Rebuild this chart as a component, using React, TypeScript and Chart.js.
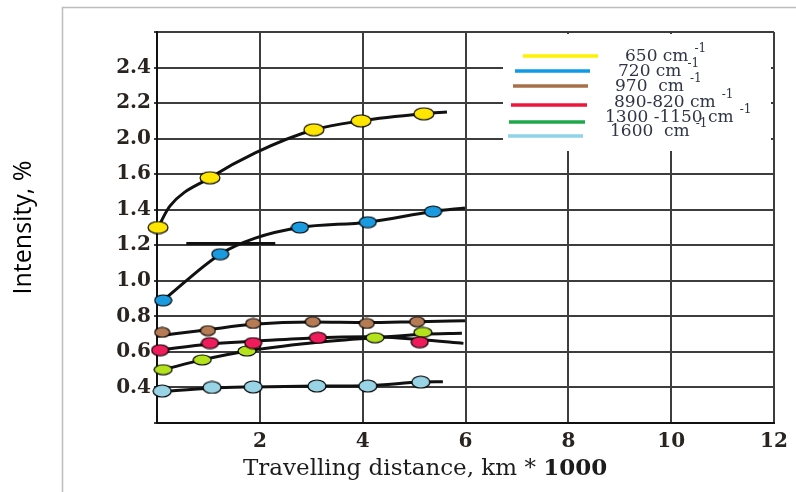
import React, { useEffect, useRef } from "react";
import { Chart, registerables } from "chart.js";

Chart.register(...registerables);

// ---------------- data ----------------
const xTickValues = [0, 2, 4, 6, 8, 10, 12];
const xTickLabels = ["", "2", "4", "6", "8", "10", "12"];
const yTickValues = [0.2, 0.4, 0.6, 0.8, 1.0, 1.2, 1.4, 1.6, 1.8, 2.0, 2.2, 2.4];
const yTickLabels = ["", "0.4", "0.6", "0.8", "1.0", "1.2", "1.4", "1.6", "2.0", "2.2", "2.4", ""];

const seriesLabels = ["650 cm", "720 cm", "970  cm", "890-820 cm", "1300 -1150 cm", "1600  cm"];
const seriesSup = "-1";
const yTitle = "Intensity, %";
const xTitleMain = "Travelling distance, km * ";
const xTitleBold = "1000";

// 650 cm-1
const s650X = [0.02, 1.03, 3.05, 3.97, 5.19];
const s650Y = [1.3, 1.58, 1.85, 1.9, 1.94];
const s650CurveX = [0.02, 0.25, 1.03, 1.91, 3.05, 3.97, 5.19, 5.64];
const s650CurveY = [1.3, 1.42, 1.58, 1.72, 1.85, 1.9, 1.94, 1.95];
// 720 cm-1
const s720X = [0.12, 1.23, 2.78, 4.1, 5.37];
const s720Y = [0.89, 1.15, 1.3, 1.33, 1.39];
const s720CurveX = [0.12, 1.23, 1.91, 2.78, 4.1, 5.37, 5.99];
const s720CurveY = [0.89, 1.15, 1.24, 1.3, 1.33, 1.39, 1.41];
// 970 cm-1
const s970X = [0.1, 0.99, 1.87, 3.03, 4.08, 5.06];
const s970Y = [0.71, 0.72, 0.76, 0.77, 0.76, 0.77];
const s970CurveX = [0.02, 0.99, 1.87, 3.03, 4.08, 5.06, 5.99];
const s970CurveY = [0.69, 0.725, 0.755, 0.768, 0.765, 0.77, 0.775];
// 890-820 cm-1
const s890X = [0.06, 1.03, 1.87, 3.13, 5.11];
const s890Y = [0.61, 0.65, 0.65, 0.68, 0.655];
const s890CurveX = [0.02, 1.03, 1.87, 3.13, 4.1, 5.11, 5.96];
const s890CurveY = [0.61, 0.645, 0.66, 0.68, 0.685, 0.67, 0.648];
// 1300-1150 cm-1
const s1300X = [0.12, 0.88, 1.75, 4.24, 5.17];
const s1300Y = [0.5, 0.555, 0.605, 0.68, 0.71];
const s1300CurveX = [0.12, 0.88, 1.75, 3.0, 4.24, 5.17, 5.93];
const s1300CurveY = [0.5, 0.555, 0.605, 0.65, 0.68, 0.7, 0.705];
// 1600 cm-1
const s1600X = [0.1, 1.07, 1.87, 3.11, 4.1, 5.13];
const s1600Y = [0.38, 0.4, 0.403, 0.408, 0.408, 0.43];
const s1600CurveX = [0.02, 1.07, 1.87, 3.11, 4.1, 5.13, 5.56];
const s1600CurveY = [0.375, 0.397, 0.403, 0.408, 0.41, 0.43, 0.432];
// short horizontal bar on the 1.2 line
const barX = [0.57, 2.3];
const barY = [1.21, 1.21];

// ---------------- styles ----------------
const markerFills = ["#FFE600", "#1A9BE0", "#B57B55", "#EE1C5A", "#B4E31E", "#98D4E6"];
const markerSizes = [
  [20, 12],
  [17, 11],
  [15, 10],
  [17, 11],
  [18, 10],
  [18, 12],
];
const legendColors = ["#FFF200", "#0F9AE6", "#A8704A", "#F0143C", "#1EA84A", "#8FD3EA"];
// legend rows: line x0, line x1, line y, text x, text y (offsets from chart area left/top)
const legendRows = [
  [366, 441, 24, 468, 25],
  [358, 433, 39, 461, 40],
  [356, 431, 54, 458, 55],
  [354, 430, 73, 457, 71],
  [352, 428, 90, 448, 86],
  [351, 426, 104, 453, 100],
];

const pts = (xs: number[], ys: number[]) => xs.map((x, i) => ({ x, y: ys[i] }));

function ellipseImage(fill: string, w: number, h: number) {
  const c = document.createElement("canvas");
  c.width = w + 2;
  c.height = h + 2;
  const g = c.getContext("2d")!;
  g.beginPath();
  g.ellipse((w + 2) / 2, (h + 2) / 2, w / 2, h / 2, 0, 0, Math.PI * 2);
  g.fillStyle = fill;
  g.fill();
  g.lineWidth = 1.2;
  g.strokeStyle = "#000";
  g.stroke();
  return c;
}

const framePlugin = {
  id: "frame",
  beforeDraw(chart: any) {
    const { ctx, width, height } = chart;
    ctx.save();
    ctx.fillStyle = "#fff";
    ctx.fillRect(0, 0, width, height);
    ctx.strokeStyle = "#BDBDBD";
    ctx.lineWidth = 1.5;
    ctx.beginPath();
    ctx.moveTo(62.5, height);
    ctx.lineTo(62.5, 7.5);
    ctx.lineTo(width, 7.5);
    ctx.stroke();
    ctx.restore();
  },
};

const legendPlugin = {
  id: "boxLegend",
  afterDatasetsDraw(chart: any) {
    const { ctx, chartArea } = chart;
    const L = chartArea.left;
    const T = chartArea.top;
    ctx.save();
    ctx.fillStyle = "#fff";
    ctx.fillRect(L + 346, T + 2, 268, 117);
    seriesLabels.forEach((label, i) => {
      const [lx0, lx1, ly, tx, ty] = legendRows[i];
      ctx.strokeStyle = legendColors[i];
      ctx.lineWidth = 3.5;
      ctx.beginPath();
      ctx.moveTo(L + lx0, T + ly);
      ctx.lineTo(L + lx1, T + ly);
      ctx.stroke();
      ctx.fillStyle = "#2E3546";
      ctx.textBaseline = "middle";
      ctx.textAlign = "left";
      ctx.font = '17px "DejaVu Serif"';
      ctx.fillText(label, L + tx, T + ty);
      const w = ctx.measureText(label).width;
      ctx.font = '12px "DejaVu Serif"';
      ctx.fillText(seriesSup, L + tx + w + 6, T + ty - 8);
    });
    ctx.restore();
  },
};

const xTitlePlugin = {
  id: "xTitle",
  afterDraw(chart: any) {
    const { ctx, chartArea } = chart;
    ctx.save();
    ctx.fillStyle = "#1c1c1c";
    ctx.textBaseline = "alphabetic";
    ctx.textAlign = "left";
    const x0 = chartArea.left + 86;
    const y0 = chartArea.bottom + 52;
    ctx.font = '23px "DejaVu Serif"';
    ctx.fillText(xTitleMain, x0, y0);
    const w = ctx.measureText(xTitleMain).width;
    ctx.font = 'bold 23px "DejaVu Serif"';
    ctx.fillText(xTitleBold, x0 + w, y0);
    ctx.restore();
  },
};

export default function App() {
  const ref = useRef<HTMLCanvasElement | null>(null);

  useEffect(() => {
    document.body.style.margin = "0";
    if (!ref.current) return;

    const markerSets = [
      [s650X, s650Y],
      [s720X, s720Y],
      [s970X, s970Y],
      [s890X, s890Y],
      [s1300X, s1300Y],
      [s1600X, s1600Y],
    ];
    const curveSets = [
      [s650CurveX, s650CurveY],
      [s720CurveX, s720CurveY],
      [s970CurveX, s970CurveY],
      [s890CurveX, s890CurveY],
      [s1300CurveX, s1300CurveY],
      [s1600CurveX, s1600CurveY],
    ];

    const datasets: any[] = [];
    curveSets.forEach(([xs, ys], i) => {
      datasets.push({
        label: seriesLabels[i] + " curve",
        data: pts(xs, ys),
        showLine: true,
        borderColor: "#111",
        borderWidth: 3,
        pointRadius: 0,
        cubicInterpolationMode: "monotone",
        order: 1,
        clip: false,
      });
    });
    datasets.push({
      label: "bar",
      data: pts(barX, barY),
      showLine: true,
      borderColor: "#111",
      borderWidth: 3,
      pointRadius: 0,
      order: 1,
    });
    markerSets.forEach(([xs, ys], i) => {
      datasets.push({
        label: seriesLabels[i],
        data: pts(xs, ys),
        showLine: false,
        pointStyle: ellipseImage(markerFills[i], markerSizes[i][0], markerSizes[i][1]),
        pointRadius: 6,
        order: 0,
        clip: false,
      });
    });

    const chart = new Chart(ref.current, {
      type: "scatter",
      data: { datasets },
      options: {
        animation: false,
        responsive: true,
        maintainAspectRatio: false,
        layout: { padding: { left: 0, top: 32, right: 22, bottom: 0 } },
        plugins: {
          legend: { display: false },
          tooltip: { enabled: false },
        },
        scales: {
          x: {
            type: "linear",
            min: 0,
            max: 12,
            afterFit: (s: any) => {
              s.height = 69;
            },
            afterBuildTicks: (s: any) => {
              s.ticks = xTickValues.map((v) => ({ value: v }));
            },
            ticks: {
              padding: 4,
              color: "#2a2420",
              font: { family: "DejaVu Serif", size: 20, weight: "bold" },
              callback: (v: any) => {
                const i = xTickValues.indexOf(Number(v));
                return i >= 0 ? xTickLabels[i] : "";
              },
            },
            grid: { color: "#3d3d3d", lineWidth: 2, tickLength: 3, tickColor: "rgba(0,0,0,0)" },
            border: { color: "#111", width: 2 },
          },
          y: {
            type: "linear",
            min: 0.2,
            max: 2.4,
            afterFit: (s: any) => {
              s.width = 157;
            },
            afterBuildTicks: (s: any) => {
              s.ticks = yTickValues.map((v) => ({ value: v }));
            },
            ticks: {
              padding: 3,
              color: "#2a2420",
              font: { family: "DejaVu Serif", size: 20, weight: "bold" },
              callback: (v: any) => {
                const i = Math.round((Number(v) - 0.2) / 0.2);
                return yTickLabels[i] ?? "";
              },
            },
            title: {
              display: true,
              text: yTitle,
              color: "#000",
              font: { family: "Open Sans", size: 25 },
              padding: { top: 9, bottom: 0 },
            },
            grid: { color: "#3d3d3d", lineWidth: 2, tickLength: 3 },
            border: { color: "#111", width: 2 },
          },
        },
      },
      plugins: [framePlugin, legendPlugin, xTitlePlugin],
    });

    return () => chart.destroy();
  }, []);

  return (
    <div style={{ width: 796, height: 492, position: "relative" }}>
      <canvas ref={ref} />
    </div>
  );
}
